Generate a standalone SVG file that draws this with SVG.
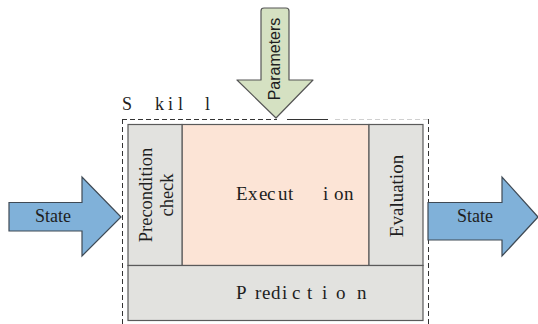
<svg xmlns="http://www.w3.org/2000/svg" width="538" height="324" viewBox="0 0 538 324">
  <style>
    text { fill: #1e1e1e; }
    .rm { font-family: 'Liberation Serif', 'Times New Roman', 'DejaVu Serif', serif; }
    .sf { font-family: 'Liberation Sans', Arial, sans-serif; }
    .panel { fill: #e2e2df; stroke: #5a5a5a; stroke-width: 1.2; }
    .exec { fill: #fce4d6; stroke: #5a5a5a; stroke-width: 1.2; }
    .frame { fill: none; stroke: #333; stroke-width: 1; stroke-dasharray: 5 3; }
    .flow { fill: #80b1d9; stroke: #3f4a55; stroke-width: 1.2; stroke-linejoin: miter; }
    .param { fill: #d5e1c2; stroke: #555; stroke-width: 1.2; stroke-linejoin: round; }
  </style>
  <rect width="538" height="324" fill="#ffffff"/>

  <!-- dashed skill boundary -->
  <g id="skill-frame">
    <line class="frame" x1="122.5" y1="119" x2="122.5" y2="324"/>
    <line class="frame" x1="428.5" y1="119" x2="428.5" y2="324"/>
    <line class="frame" x1="122" y1="119.5" x2="277" y2="119.5"/>
    <line x1="287" y1="119.5" x2="328" y2="119.5" stroke="#333" stroke-width="1"/>
    <line class="frame" x1="335" y1="119.5" x2="428" y2="119.5" style="stroke:#d0d0d0"/>
    <text class="rm" font-size="18" y="110" x="122 155 168 178 205">Skill</text>
  </g>

  <!-- skill stages -->
  <g id="execution">
    <rect class="exec" x="182" y="124.5" width="187" height="141"/>
    <text class="rm" font-size="19" y="200" x="236 248 259 267 278 288 323 334 344">Execution</text>
  </g>
  <g id="precondition">
    <rect class="panel" x="128" y="124.5" width="54" height="141"/>
    <text class="rm" font-size="18.5" text-anchor="middle" transform="translate(152 195) rotate(-90)">Precondition</text>
    <text class="rm" font-size="18.5" text-anchor="middle" transform="translate(173 195) rotate(-90)">check</text>
  </g>
  <g id="evaluation">
    <rect class="panel" x="369" y="124.5" width="54" height="141"/>
    <text class="rm" font-size="19" text-anchor="middle" transform="translate(403 196) rotate(-90)">Evaluation</text>
  </g>
  <g id="prediction">
    <rect class="panel" x="128" y="265.5" width="295" height="55"/>
    <text class="rm" font-size="19" y="299" x="236 255 262 271 282 292 307 322 336 357">Prediction</text>
  </g>

  <!-- block arrows into and out of the skill -->
  <g id="connectors">
    <g id="state-in">
      <path class="flow" d="M9 202.5 H82 V177 L121 217 L82 256 V231 H9 Z"/>
      <text class="rm" font-size="18" text-anchor="middle" x="53" y="222">State</text>
    </g>
    <g id="state-out">
      <path class="flow" d="M428 202.5 H502 V177 L538 217 L502 256 V240 H428 Z"/>
      <text class="rm" font-size="18" text-anchor="middle" x="475" y="222">State</text>
    </g>
    <g id="parameters">
      <path class="param" d="M261 80 V11 Q261 8 264 8 H286 Q289 8 289 11 V80 H313 L276 118 L237 80 Z"/>
      <text class="sf" font-size="16" text-anchor="middle" transform="translate(280 59) rotate(-90)">Parameters</text>
    </g>
  </g>
</svg>
